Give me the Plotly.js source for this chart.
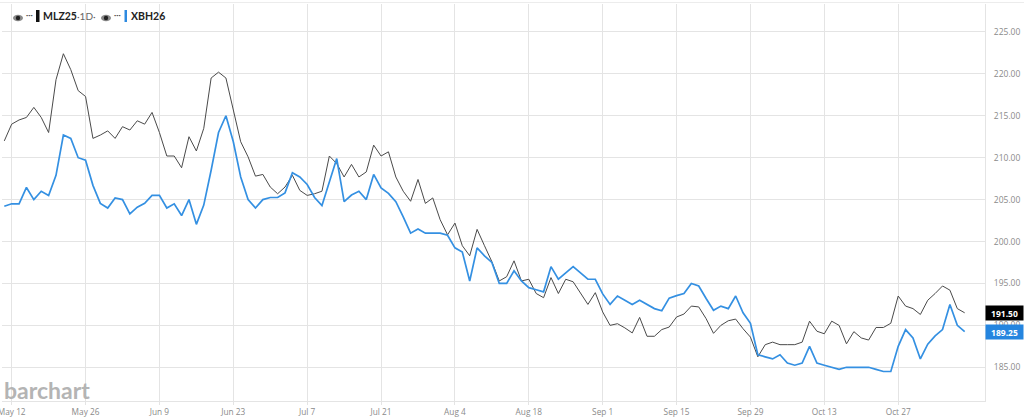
<!DOCTYPE html>
<html><head><meta charset="utf-8">
<script src="https://cdn.plot.ly/plotly-3.0.1.min.js"></script>
<style>html,body{margin:0;padding:0;background:#fff;overflow:hidden}#c{width:1024px;height:417px}</style>
</head><body><div id="c"></div>
<script>
const dates = ["May 9","May 12","May 13","May 14","May 15","May 16","May 19","May 20","May 21","May 22","May 23",
"May 26","May 27","May 28","May 29","May 30","Jun 2","Jun 3","Jun 4","Jun 5","Jun 6",
"Jun 9","Jun 10","Jun 11","Jun 12","Jun 13","Jun 16","Jun 17","Jun 18","Jun 19","Jun 20",
"Jun 23","Jun 24","Jun 25","Jun 26","Jun 27","Jun 30","Jul 1","Jul 2","Jul 3","Jul 4",
"Jul 7","Jul 8","Jul 9","Jul 10","Jul 11","Jul 14","Jul 15","Jul 16","Jul 17","Jul 18",
"Jul 21","Jul 22","Jul 23","Jul 24","Jul 25","Jul 28","Jul 29","Jul 30","Jul 31","Aug 1",
"Aug 4","Aug 5","Aug 6","Aug 7","Aug 8","Aug 11","Aug 12","Aug 13","Aug 14","Aug 15",
"Aug 18","Aug 19","Aug 20","Aug 21","Aug 22","Aug 25","Aug 26","Aug 27","Aug 28","Aug 29",
"Sep 1","Sep 2","Sep 3","Sep 4","Sep 5","Sep 8","Sep 9","Sep 10","Sep 11","Sep 12",
"Sep 15","Sep 16","Sep 17","Sep 18","Sep 19","Sep 22","Sep 23","Sep 24","Sep 25","Sep 26",
"Sep 29","Sep 30","Oct 1","Oct 2","Oct 3","Oct 6","Oct 7","Oct 8","Oct 9","Oct 10",
"Oct 13","Oct 14","Oct 15","Oct 16","Oct 17","Oct 20","Oct 21","Oct 22","Oct 23","Oct 24",
"Oct 27","Oct 28","Oct 29","Oct 30","Oct 31","Nov 3","Nov 4","Nov 5","Nov 6","Nov 7"];
const mlz25 = [212.0,214.0,214.5,214.8,216.0,214.8,213.0,219.3,222.4,220.5,218.0,
217.3,212.3,212.7,213.2,212.3,213.7,213.3,214.4,214.0,215.4,
213.0,210.2,210.2,208.8,212.5,210.8,213.5,219.5,220.2,219.5,
215.7,211.9,210.1,207.8,208.0,206.5,205.7,206.5,207.9,206.1,
205.5,205.7,206.0,210.2,209.3,207.7,209.2,207.7,208.3,211.5,
210.2,210.7,207.7,206.0,204.8,207.4,204.55,205.2,202.6,200.8,
202.2,199.5,198.3,201.45,199.5,197.6,195.3,195.8,197.7,195.3,
195.5,193.8,193.3,195.7,193.8,195.5,195.2,193.9,192.5,193.9,
191.6,190.0,190.2,189.7,189.1,190.95,188.7,188.7,189.5,189.8,
191.0,191.35,192.3,192.2,190.8,189.05,190.0,190.55,190.75,189.6,
188.6,186.25,187.7,188.0,187.7,187.7,187.7,188.0,190.5,189.3,
189.0,190.5,190.0,187.8,189.25,188.5,188.25,189.75,189.75,190.25,
193.5,192.3,192.0,191.3,193.0,193.8,194.7,194.2,192.0,191.5];
const xbh26 = [204.2,204.5,204.5,206.45,205.0,206.0,205.5,207.9,212.7,212.3,210.0,
209.7,206.7,204.55,204.0,205.2,205.0,203.3,204.1,204.55,205.5,
205.5,204.0,204.5,203.1,205.0,202.05,204.35,208.5,213.0,215.0,
211.9,207.7,205.0,204.0,205.0,205.25,205.25,205.8,208.2,207.7,
206.8,205.25,204.3,207.1,209.9,204.75,205.55,206.0,205.0,208.0,
206.4,205.75,204.75,202.95,201.0,201.5,201.0,201.0,201.0,200.75,
199.25,198.75,195.3,199.25,198.3,197.5,195.0,195.0,196.5,195.3,
194.5,194.25,194.0,197.0,195.5,196.25,197.0,196.25,195.5,195.5,
193.75,192.5,193.5,193.0,192.5,193.0,192.5,192.0,191.75,193.25,
193.55,193.8,195.0,194.7,193.2,191.8,192.3,192.0,193.5,191.5,
190.25,186.5,186.25,186.0,186.5,185.5,185.25,185.5,187.5,185.5,
185.25,185.0,184.75,185.0,185.0,185.0,185.0,184.75,184.5,184.5,
187.5,189.5,188.5,186.0,187.75,188.75,189.5,192.5,190.0,189.25];
const xTicks = ["May 12","May 26","Jun 9","Jun 23","Jul 7","Jul 21","Aug 4","Aug 18","Sep 1","Sep 15","Sep 29","Oct 13","Oct 27"];
const yTicks = [185,190,195,200,205,210,215,220,225];

const W = 1024, H = 417, mL = 2, mR = 39, mT = 4, mB = 16;
const px = x => (x - mL) / (W - mL - mR), py = y => 1 - (y - mT) / (H - mT - mB);
const grid = '#e4e4e4', txt = '#8a8a8a';
const sans = '"Open Sans", sans-serif', leg = 'Lato, "Open Sans", sans-serif';

function eye(cx, cy) {
  return [
    {type:'circle',xref:'paper',yref:'paper',x0:px(cx-5),x1:px(cx+5),y0:py(cy+3.2),y1:py(cy-3.2),fillcolor:'#8a8a8a',line:{width:0}},
    {type:'circle',xref:'paper',yref:'paper',x0:px(cx-2.2),x1:px(cx+2.2),y0:py(cy+2.2),y1:py(cy-2.2),fillcolor:'#222',line:{width:0}}
  ];
}
function labelAt(x, y, text, color, size, family) {
  return {xref:'paper',yref:'paper',x:px(x),y:py(y),text,showarrow:false,xanchor:'left',yanchor:'middle',
    font:{color,size,family},borderpad:0,borderwidth:0};
}
function tag(v, text, bg) {
  return {xref:'paper',yref:'y',x:px(985),y:v,text:'<b>'+text+'</b>',showarrow:false,xanchor:'left',yanchor:'middle',
    width:37,height:14,align:'center',bgcolor:bg,font:{color:'#fff',size:8.5,family:sans},borderpad:0};
}

const traces = [
  {type:'scatter',mode:'lines',name:'MLZ25',x:dates,y:mlz25,line:{color:'#4a4a4a',width:1},hoverinfo:'x+y'},
  {type:'scatter',mode:'lines',name:'XBH26',x:dates,y:xbh26,line:{color:'#3490e2',width:1.7},hoverinfo:'x+y'}
];
const layout = {
  width:W,height:H,paper_bgcolor:'#fff',plot_bgcolor:'#fff',showlegend:false,
  margin:{l:mL,r:mR,t:mT,b:mB,pad:0},
  xaxis:{type:'category',categoryorder:'array',categoryarray:dates,range:[-0.31,132.75],
    tickmode:'array',tickvals:xTicks,ticktext:xTicks,tickangle:0,
    showgrid:true,gridcolor:grid,gridwidth:1.2,zeroline:false,
    showline:true,linecolor:grid,linewidth:1.2,
    ticks:'outside',ticklen:3,tickcolor:grid,tickfont:{family:sans,size:8.3,color:txt},automargin:false},
  yaxis:{side:'right',range:[180.98,228.33],tickmode:'array',tickvals:yTicks,
    ticktext:yTicks.map(v=>v.toFixed(2)),showgrid:true,gridcolor:grid,gridwidth:1.2,zeroline:false,
    showline:true,linecolor:grid,linewidth:1.2,ticks:'',ticklabelstandoff:6,
    tickfont:{family:sans,size:8.5,color:txt},automargin:false},
  shapes:[
    {type:'line',xref:'paper',yref:'paper',x0:px(0),x1:px(W),y0:py(2.5),y1:py(2.5),line:{color:'#ececec',width:1.2}},
    ...eye(18,18),
    {type:'rect',xref:'paper',yref:'paper',x0:px(36),x1:px(39.5),y0:py(22),y1:py(10),fillcolor:'#111',line:{width:0}},
    ...eye(106,18),
    {type:'rect',xref:'paper',yref:'paper',x0:px(124.5),x1:px(127),y0:py(22),y1:py(10),fillcolor:'#2d8ae0',line:{width:0}}
  ],
  annotations:[
    labelAt(25.5,14.5,'<b>···</b>','#555',8,leg),
    labelAt(42.5,16.5,'<b>MLZ25</b>','#222',10.5,leg),
    labelAt(77,16.5,'·1D·','#666',10,leg),
    labelAt(114,14.5,'<b>···</b>','#555',8,leg),
    labelAt(131,16.5,'<b>XBH26</b>','#222',10.5,leg),
    labelAt(4,390,'<b>barchart</b>','#b4b4b4',23,leg),
    tag(189.25,'189.25','#2585df'),
    tag(191.5,'191.50','#000000')
  ]
};
Plotly.newPlot('c',traces,layout,{displayModeBar:false,responsive:false});
</script></body></html>
